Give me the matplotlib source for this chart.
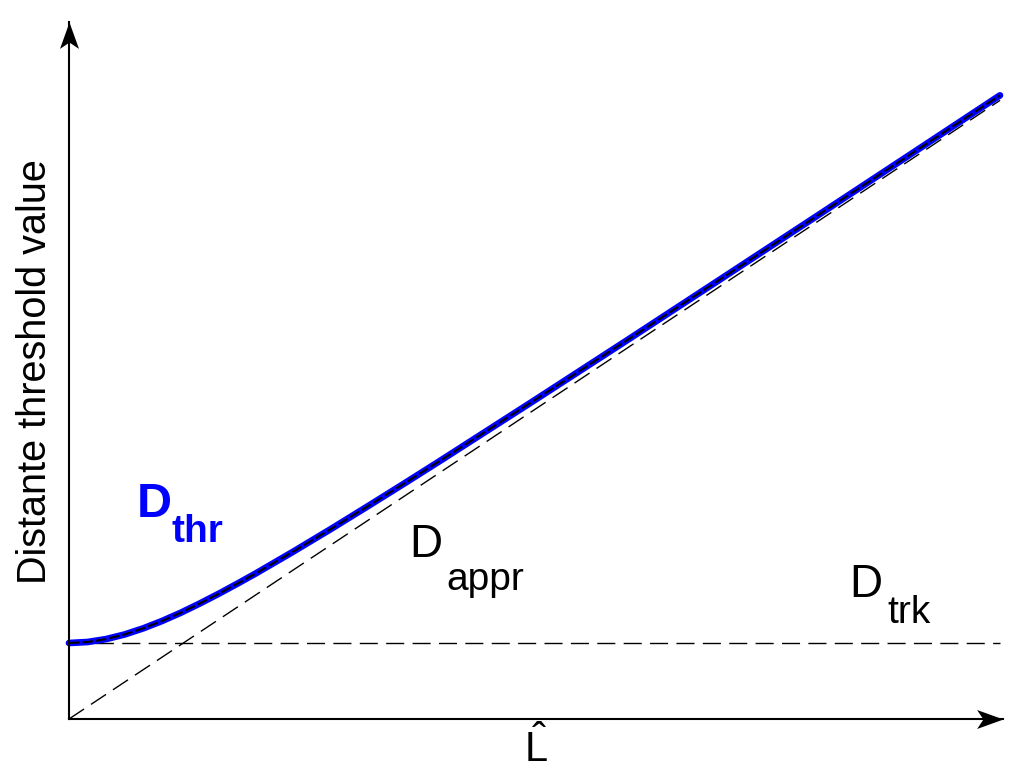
import numpy as np
import matplotlib
matplotlib.use('Agg')
import matplotlib.pyplot as plt

plt.rcParams['font.family'] = ['Liberation Sans', 'DejaVu Sans']
plt.rcParams['mathtext.fontset'] = 'custom'
plt.rcParams['mathtext.rm'] = 'Liberation Sans'

# values (L_hat in arbitrary units, D normalised to D_trk = 1)
L_hat = [0, 0.2, 0.4, 0.6, 0.8, 1.0, 1.2, 1.4, 1.6, 1.8, 2.0, 2.4, 2.8, 3.2, 3.6,
         4, 5, 6, 7, 8, 9, 10]
D_thr = [1.000, 1.013, 1.052, 1.113, 1.194, 1.290, 1.398, 1.517, 1.643, 1.775,
         1.911, 2.196, 2.490, 2.792, 3.098, 3.408, 4.194, 4.988, 5.789, 6.592,
         7.398, 8.206]
L_appr = [0, 10]
D_appr = [0, 8.14]
L_trk = [0, 10]
D_trk = [1, 1]

fig = plt.figure(figsize=(10.24, 7.83), dpi=100)
ax = fig.add_axes([0, 0, 1, 1])
# axis limits chosen so the origin lands where it does in the reference
ax.set_xlim(-69 / 93.1, (1024 - 69) / 93.1)
ax.set_ylim((719 - 783) / 76.0, 719 / 76.0)
ax.axis('off')

# guide lines
ax.plot(L_trk, D_trk, color='k', lw=1.0, linestyle=(0, (13, 6)))
ax.plot(L_appr, D_appr, color='k', lw=1.0, linestyle=(0, (13, 6)))

# threshold curve: thick blue with a dark dashed core
ax.plot(L_hat, D_thr, color='#0000ff', lw=4.8, solid_capstyle='round',
        solid_joinstyle='round')
ax.plot(L_hat, D_thr, color='k', lw=1.5, linestyle=(0, (5, 1.5)))

# axes with arrow heads
xmax = (1003 - 69) / 93.1
ymax = (719 - 22) / 76.0
ax.plot([0, xmax], [0, 0], color='k', lw=1.5)
ax.plot([0, 0], [0, ymax], color='k', lw=1.5)
up = [(0, 0), (0.45, -1.25), (0, -0.95), (-0.45, -1.25), (0, 0)]
right = [(y, -x) for x, y in up]
ax.plot([0], [ymax], marker=up, markersize=38, color='k', markeredgewidth=0)
ax.plot([xmax], [0], marker=right, markersize=38, color='k', markeredgewidth=0)

# labels
ax.text(0.73, 2.658, 'D', color='#0000ff', fontsize=35, fontweight='bold')
ax.text(1.096, 2.329, 'thr', color='#0000ff', fontsize=28, fontweight='bold')
ax.text(3.652, 2.132, 'D', color='k', fontsize=33)
ax.text(4.049, 1.697, 'appr', color='k', fontsize=28)
ax.text(8.378, 1.605, 'D', color='k', fontsize=33)
ax.text(8.786, 1.263, 'trk', color='k', fontsize=28)
ax.text(5.016, -0.566, r'$\hat{\mathrm{L}}$', fontsize=30, ha='center', va='baseline')
ax.text(-0.365, 4.566, 'Distante threshold value', fontsize=28.5, rotation=90,
        ha='center', va='center')

plt.savefig('out.png', dpi=100)
